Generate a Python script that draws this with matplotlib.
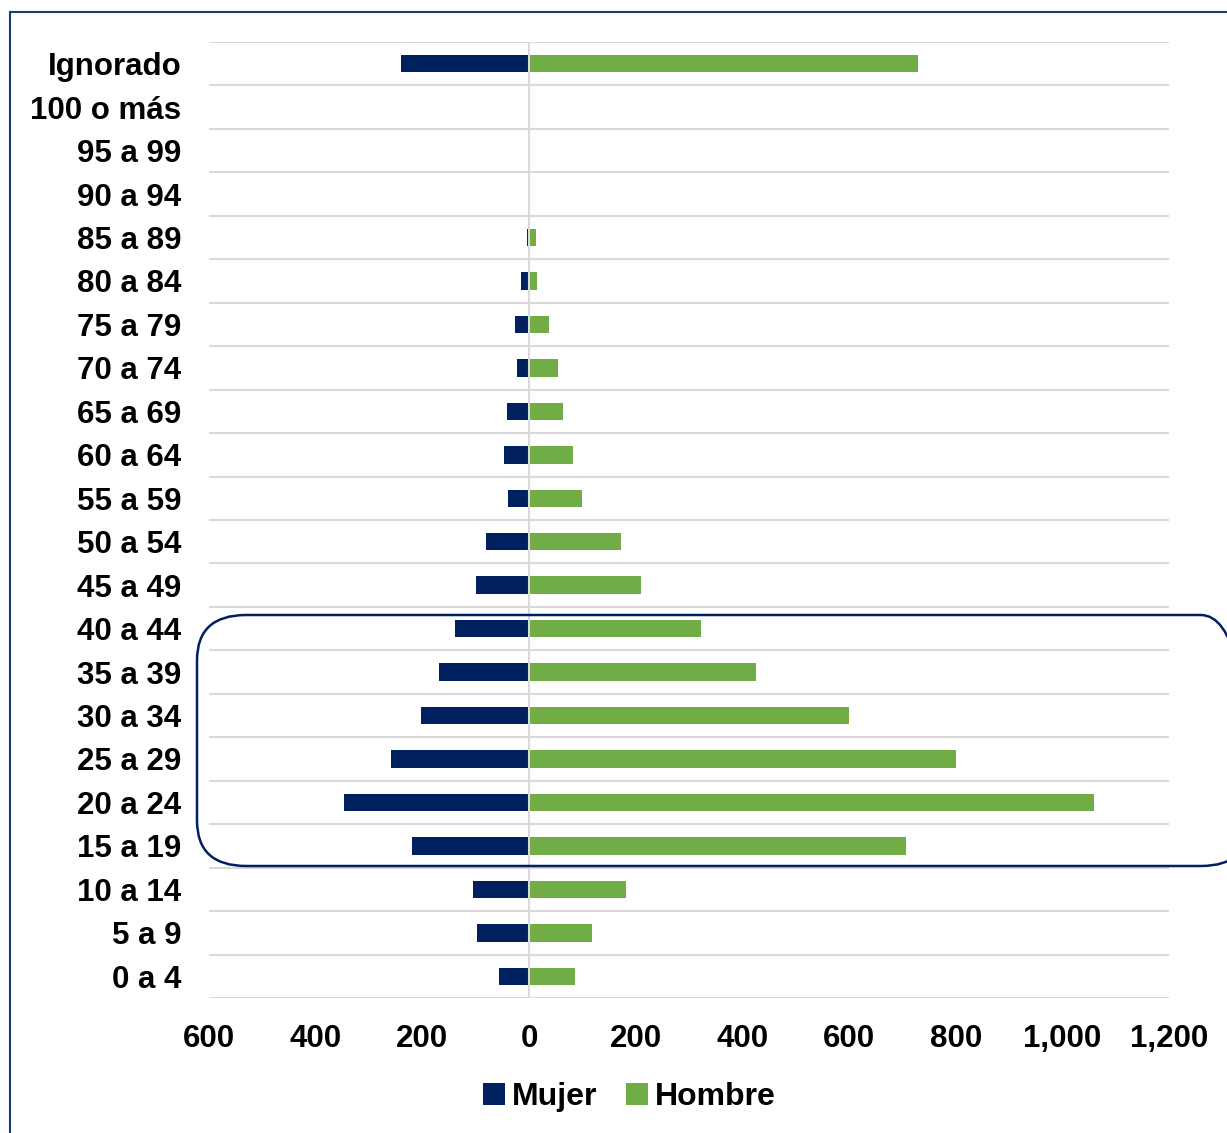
import numpy as np
import matplotlib.pyplot as plt
from matplotlib.patches import FancyBboxPatch, Rectangle
from matplotlib.ticker import FuncFormatter

plt.rcParams['font.family'] = ['Liberation Sans', 'DejaVu Sans']

grupos = ['0 a 4', '5 a 9', '10 a 14', '15 a 19', '20 a 24', '25 a 29', '30 a 34',
          '35 a 39', '40 a 44', '45 a 49', '50 a 54', '55 a 59', '60 a 64', '65 a 69',
          '70 a 74', '75 a 79', '80 a 84', '85 a 89', '90 a 94', '95 a 99',
          '100 o más', 'Ignorado']
mujer = [56, 97, 105, 219, 347, 259, 203, 169, 139, 99, 81, 39, 47, 41,
         22, 26, 15, 4, 0, 1, 0, 240]
hombre = [86, 118, 182, 707, 1059, 801, 600, 426, 322, 210, 172, 99, 82, 64,
          54, 37, 15, 13, 1, 1, 0, 729]
ticks = [-600, -400, -200, 0, 200, 400, 600, 800, 1000, 1200]

azul = '#002060'
verde = '#70AD47'

W, H = 1227, 1133
fig = plt.figure(figsize=(W / 100, H / 100), dpi=100)
ax = fig.add_axes([209 / W, 1 - 998 / H, (1169 - 209) / W, (998 - 42) / H])

y = np.arange(len(grupos))
ax.barh(y, -np.array(mujer), height=0.4, color=azul, label='Mujer', zorder=3)
ax.barh(y, hombre, height=0.4, color=verde, label='Hombre', zorder=3)

ax.set_xlim(-600, 1200)
ax.set_ylim(-0.5, len(grupos) - 0.5)
ax.set_yticks(y)
ax.set_yticklabels(grupos, fontsize=22.5, fontweight='bold')
ax.set_xticks(ticks)
ax.xaxis.set_major_formatter(FuncFormatter(lambda v, p: f'{abs(int(v)):,}'))
for lbl in ax.get_xticklabels():
    lbl.set_fontsize(22.5)
    lbl.set_fontweight('bold')
ax.tick_params(axis='x', length=0, pad=19)
ax.tick_params(axis='y', length=0, pad=20)

# horizontal grid between categories
for b in np.arange(-0.5, len(grupos), 1):
    ax.axhline(b, color='#d9d9d9', lw=1.5, zorder=1)
ax.axvline(0, color='#d9d9d9', lw=1.5, zorder=4)
for s in ax.spines.values():
    s.set_visible(False)

ax.legend(loc='center', bbox_to_anchor=(0.4375, -0.1036), ncol=2, frameon=False,
          prop={'size': 23, 'weight': 'bold'}, handlelength=0.7, handleheight=0.7,
          handletextpad=0.2, columnspacing=0.9)

# recuadro de los grupos 15 a 44
caja = FancyBboxPatch((197 / W, 1 - 866 / H), (1250 - 197) / W, (866 - 615) / H,
                      boxstyle='round,pad=0,rounding_size=0.04', transform=fig.transFigure,
                      fill=False, ec=azul, lw=1.8, clip_on=False)
fig.patches.append(caja)

# marco exterior
marco = Rectangle((10 / W, -0.05), 1.1, 1 - 12 / H + 0.05, transform=fig.transFigure,
                  fill=False, ec='#1f3a6e', lw=1.5, clip_on=False)
fig.patches.append(marco)

fig.savefig('out.png', dpi=100, facecolor='white')
